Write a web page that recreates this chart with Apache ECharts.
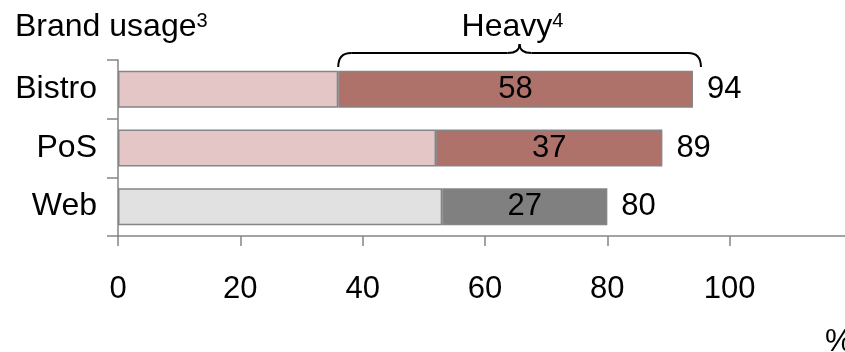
<!DOCTYPE html>
<html>
<head>
<meta charset="utf-8">
<script src="https://cdn.jsdelivr.net/npm/echarts@6/dist/echarts.min.js"></script>
<style>
  html, body { margin: 0; padding: 0; background: #fff; }
  #chart { width: 845px; height: 352px; }
</style>
</head>
<body>
<div id="chart"></div>
<script>
// Brand usage by channel: heavy share and total share (%)
const categories = ['Bistro', 'PoS', 'Web'];
const heavy = [58, 37, 27];
const total = [94, 89, 80];
const light = total.map((t, i) => t - heavy[i]);
const xTicks = [0, 20, 40, 60, 80, 100];

const lightColors = ['#e5c6c7', '#e5c6c7', '#e1e1e1'];
const heavyColors = ['#ae726a', '#ae726a', '#808080'];

const FONT = 'Liberation Sans, Arial, sans-serif';
const FS = 31;      // numbers
const FS_TXT = 32;  // words
const FS_SUP = 20;  // footnote markers
const edge = '#858585';

const chart = echarts.init(document.getElementById('chart'), null, { renderer: 'canvas' });

chart.setOption({
  animation: false,
  textStyle: { fontFamily: FONT },
  grid: { left: 118, top: 60, height: 176, width: 734, outerBoundsMode: 'none', containLabel: false },
  xAxis: {
    type: 'value',
    min: 0, max: 120, interval: 20,
    axisLine: { show: true, lineStyle: { color: edge, width: 1.5 } },
    axisTick: { show: true, length: 10, lineStyle: { color: edge, width: 1.5 } },
    splitLine: { show: false },
    axisLabel: {
      fontSize: FS, color: '#000', fontFamily: FONT, margin: 38,
      formatter: v => (xTicks.indexOf(v) >= 0 ? String(v) : '')
    }
  },
  yAxis: {
    type: 'category',
    data: categories,
    inverse: true,
    axisLine: { show: true, lineStyle: { color: edge, width: 1.5 } },
    axisTick: { show: true, length: 11, lineStyle: { color: edge, width: 1.5 } },
    axisLabel: { fontSize: FS_TXT, color: '#000', fontFamily: FONT, margin: 21 }
  },
  series: [
    {
      name: 'Light',
      type: 'bar',
      stack: 'usage',
      barWidth: 37,
      data: light.map((v, i) => ({
        value: v,
        itemStyle: { color: lightColors[i], borderColor: edge, borderWidth: 1.5 }
      }))
    },
    {
      name: 'Heavy',
      type: 'bar',
      stack: 'usage',
      barWidth: 37,
      data: heavy.map((v, i) => ({
        value: v,
        itemStyle: { color: heavyColors[i], borderColor: edge, borderWidth: 1.5 }
      })),
      label: {
        show: true, position: 'inside', fontSize: FS, color: '#000', fontFamily: FONT,
        formatter: p => String(p.value)
      }
    },
    {
      name: 'Total',
      type: 'bar',
      barWidth: 37,
      barGap: '-100%',
      silent: true,
      z: 1,
      itemStyle: { color: 'rgba(0,0,0,0)' },
      data: total,
      label: {
        show: true, position: 'right', distance: 14, fontSize: FS, color: '#000', fontFamily: FONT,
        formatter: p => String(p.value)
      }
    }
  ]
});

// Curly brace over the heavy segment of the first bar, with its caption
const x1 = chart.convertToPixel({ xAxisIndex: 0 }, light[0]);
const x2 = chart.convertToPixel({ xAxisIndex: 0 }, total[0]) + 8;
const mid = (x1 + x2) / 2;
const yEnd = 67, yBar = 53, yTip = 44, r = 13;
const braceStyle = { fill: 'none', stroke: '#000', lineWidth: 2 };
const curve = (ax, ay, cx, cy, bx, by) => ({
  type: 'bezierCurve',
  shape: { x1: ax, y1: ay, cpx1: cx, cpy1: cy, x2: bx, y2: by },
  style: braceStyle
});
const seg = (ax, ay, bx, by) => ({
  type: 'line',
  shape: { x1: ax, y1: ay, x2: bx, y2: by },
  style: braceStyle
});
const supRich = {
  a: { fontSize: FS_TXT, fontFamily: FONT, fill: '#000' },
  s: { fontSize: FS_SUP, fontFamily: FONT, fill: '#000', verticalAlign: 'top' }
};

chart.setOption({
  graphic: [
    curve(x1, yEnd, x1, yBar, x1 + r, yBar),
    seg(x1 + r, yBar, mid - 12, yBar),
    curve(mid - 12, yBar, mid, yBar, mid, yTip),
    curve(mid, yTip, mid, yBar, mid + 12, yBar),
    seg(mid + 12, yBar, x2 - r, yBar),
    curve(x2 - r, yBar, x2, yBar, x2, yEnd),
    {
      type: 'text',
      x: 15, y: 11,
      style: { text: '{a|Brand usage}{s|3}', rich: supRich }
    },
    {
      type: 'text',
      x: mid - 58, y: 11,
      style: { text: '{a|Heavy}{s|4}', rich: supRich }
    },
    {
      type: 'text',
      x: 825, y: 327,
      style: { text: '%', fontSize: FS, fontFamily: FONT, fill: '#000' }
    }
  ]
});
</script>
</body>
</html>
